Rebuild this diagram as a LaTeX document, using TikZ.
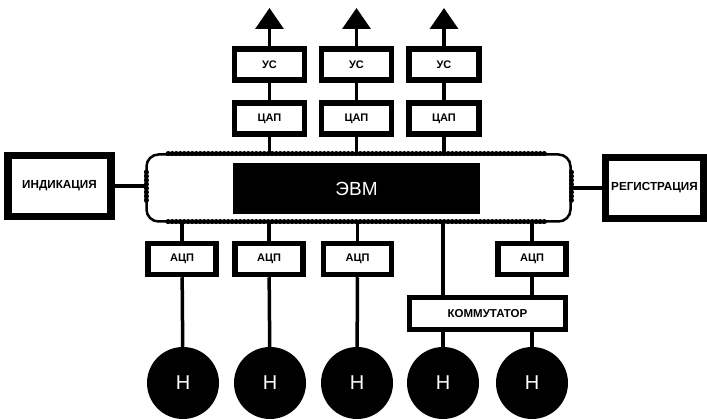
\documentclass[tikz,border=0pt]{standalone}
\usepackage{fontspec}
\setmainfont{Liberation Sans}
\usetikzlibrary{arrows.meta}

\tikzset{
	blok/.style={draw,line width=5.5pt,fill=white,inner sep=0pt,minimum width=68pt,minimum height=31pt,font=\bfseries\fontsize{11}{12}\selectfont},
	bigblok/.style={draw,line width=7.5pt,fill=white,inner sep=0pt,minimum height=61pt,font=\bfseries\fontsize{11.7}{13}\selectfont},
	wire/.style={line width=3.5pt},
	beads/.style={line width=5pt,line cap=round,dash pattern=on 0.4pt off 3.6pt},
	datchik/.style={circle,fill=black,minimum size=72pt,inner sep=0pt,text=white,font=\fontsize{20}{22}\selectfont}
}

\begin{document}
\begin{tikzpicture}[x=1pt,y=-1pt]
		\useasboundingbox (0,0) rectangle (707,419);
		
		% bus and computer
		\node[draw,line width=2.5pt,rounded corners=12pt,minimum width=424pt,minimum height=67pt] (bus) at (358.5,188) {};
		\draw[beads] (168,154) -- (547,154);
		\draw[beads] (168,222) -- (547,222);
		\draw[beads] (146,172) -- (146,201);
		\draw[beads] (571,172) -- (571,203);
		\node[fill=black,text=white,minimum width=247pt,minimum height=51pt,font=\fontsize{19}{21}\selectfont] (evm) at (356.5,188.5) {ЭВМ};
		
		\node[bigblok,minimum width=103pt] (ind) at (59.5,186) {ИНДИКАЦИЯ};
		\node[bigblok,minimum width=98pt] (reg) at (654.5,188) {РЕГИСТРАЦИЯ};
		\draw[wire] (ind) -- (ind -| bus.west);
		\draw[wire] (reg) -- (reg -| bus.east);
		
		% outputs
		\foreach \x[count=\n] in {269.5,356.5,444}{
			\node[blok,minimum width=70pt] (us\n) at (\x,64.5) {УС};
			\node[blok,minimum width=70pt] (cap\n) at (\x,118.5) {ЦАП};
			\coordinate (ant\n) at (\x,8);
			\draw[wire] (cap\n) -- (us\n);
			\draw[wire] (cap\n) -- (cap\n |- bus.north);
			\draw[wire,-{Triangle[width=28pt,length=21pt]}] (us\n) -- (ant\n);
		}
		
		% inputs
		\foreach \x[count=\n] in {183,270,357,443,532}{
			\node[datchik] (h\n) at (\x,383) {Н};
		}
		
		\foreach \x[count=\n] in {182,269,357.5}{
			\node[blok] (acp\n) at (\x,259) {АЦП};
			\draw[wire] (acp\n) -- (acp\n |- bus.south);
			\draw[wire] (acp\n) -- (h\n);
		}
		
		\node[blok] (acp5) at (532,259) {АЦП};
		\node[blok,minimum width=156pt,minimum height=32pt,font=\bfseries\fontsize{11.5}{12}\selectfont] (komm) at (487.5,313.5) {КОММУТАТОР};
		
		\draw[wire] (h4 |- bus.south) -- (h4 |- komm.north);
		\draw[wire] (h4 |- komm.south) -- (h4);
		\draw[wire] (acp5) -- (acp5 |- bus.south);
		\draw[wire] (acp5) -- (acp5 |- komm.north);
		\draw[wire] (h5 |- komm.south) -- (h5);
		\end{tikzpicture}
\end{document}
